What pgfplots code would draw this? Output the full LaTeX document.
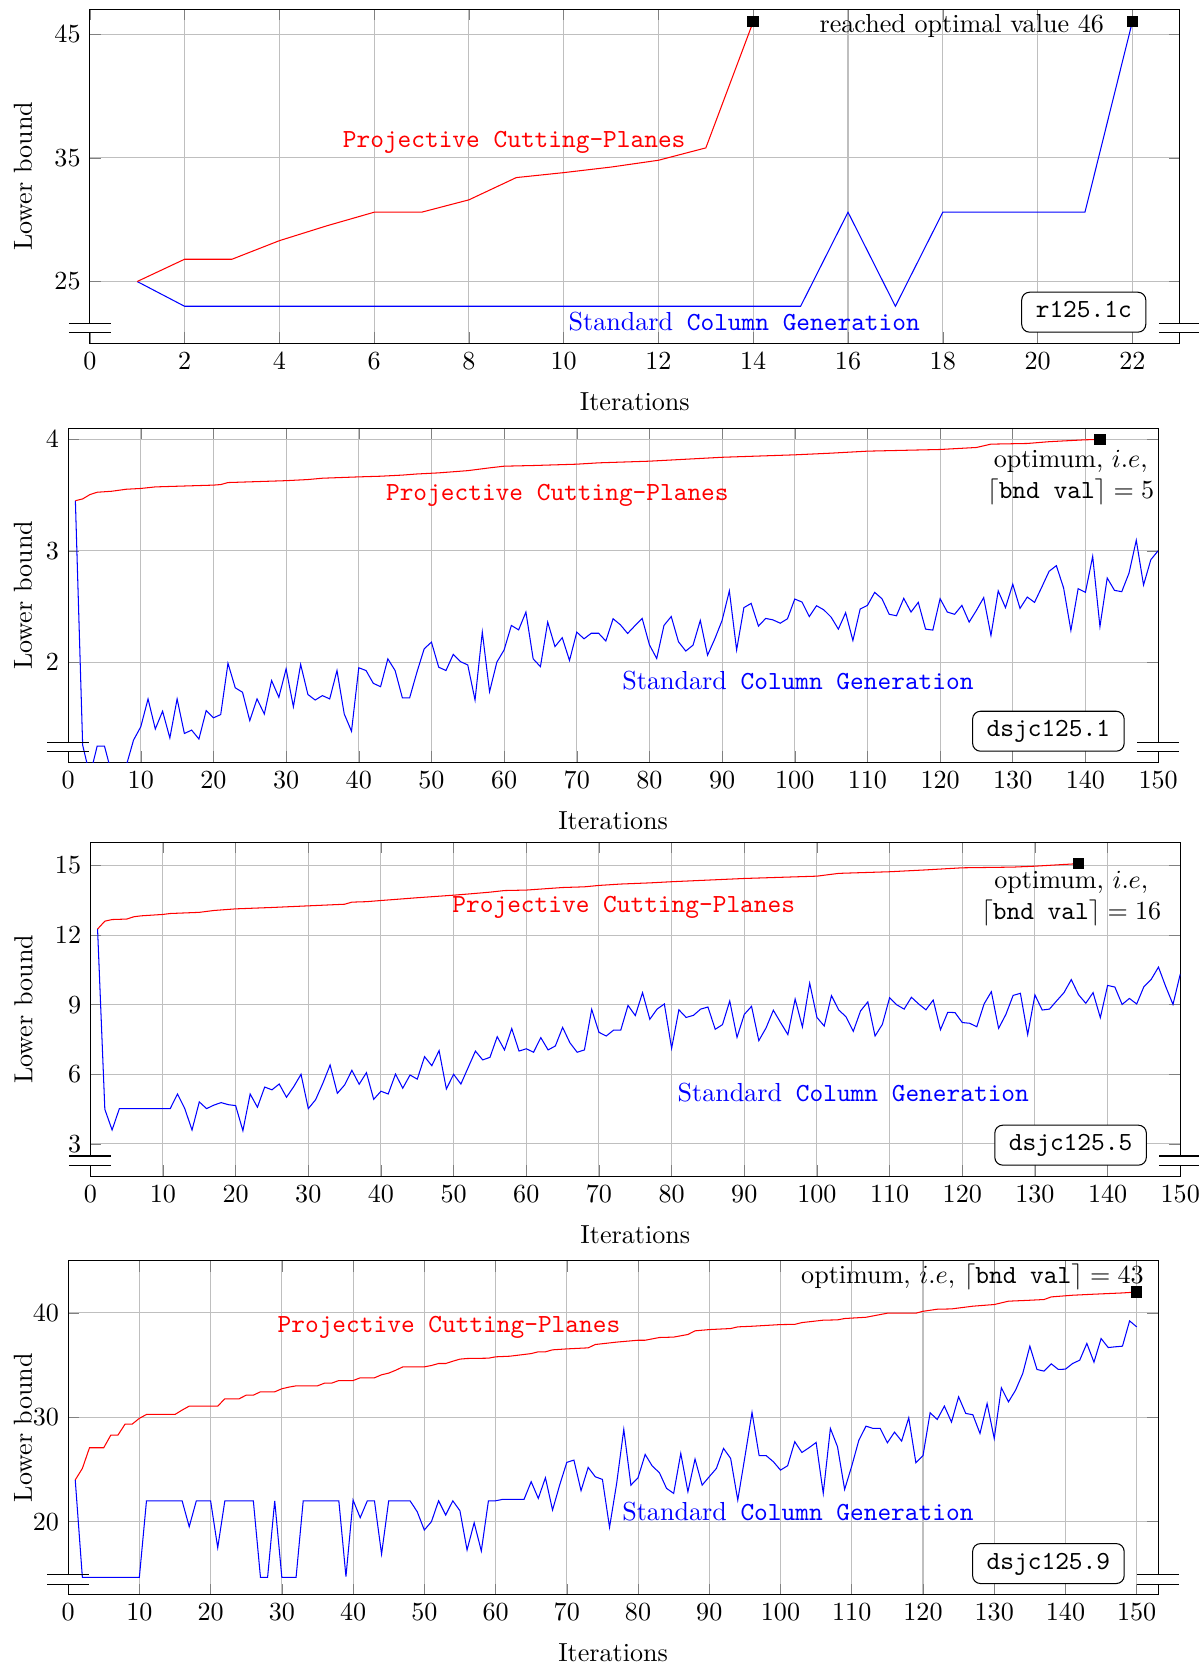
\documentclass[border=0pt]{standalone}
\usepackage{pgfplots}
\pgfplotsset{compat=1.18}
\begin{document}
\begin{tikzpicture}
\useasboundingbox (0,0) rectangle (459pt,-638.3pt);
\pgfplotsset{
 panel/.style={scale only axis, width=417.6pt, height=128pt, anchor=north west,
   grid=major, clip mode=individual, xlabel={Iterations}, ylabel={Lower bound},
   xlabel style={yshift=-2pt},
   xmin=0, xtick={0,10,...,150}},
}
\tikzset{lbl/.style={font=\ttfamily}}
%%%%%%%%%%%%%%%% panel 1
\begin{axis}[panel, name=p1, at={(34.4pt,-3.56pt)}, xmax=23, ymin=20, ymax=47,
  xtick={0,2,...,22}, ytick={25,35,45},
  ylabel style={at={(axis description cs:-0.0613,0.5)}, anchor=center}]
\addplot[blue] coordinates {(1,25) (2,23) (3,23) (4,23) (5,23) (6,23) (7,23) (8,23) (9,23) (10,23) (11,23) (12,23) (13,23) (14,23) (15,23) (16,30.6) (17,23) (18,30.6) (19,30.6) (20,30.6) (21,30.6) (22,46)};
\addplot[red] coordinates {(1,25) (2,26.8) (3,26.8) (4,28.3) (5,29.5) (6,30.6) (7,30.6) (8,31.6) (9,33.4) (10,33.8) (11,34.25) (12,34.8) (13,35.8) (14,46)};
\addplot[only marks, mark=square*, mark size=2pt, black] coordinates {(14,46) (22,46)};
\node[red, lbl] at (axis cs:8.955,36.25) {Projective Cutting-Planes};
\node[blue] at (axis cs:13.81,21.8) {Standard\texttt{ Column Generation}};
\node at (axis cs:18.4,45.69) {reached optimal value 46};
\end{axis}
%%%%%%%%%%%%%%%% panel 2
\begin{axis}[panel, name=p2, at={(26.1pt,-164.1pt)}, xmax=150, ymin=1.1, ymax=4.1,
  ytick={2,3,4},
  ylabel style={at={(axis description cs:-0.0414,0.5)}, anchor=center}]
\addplot[blue] coordinates {(1,3.45) (2,1.256) (3,0.98) (4,1.247) (5,1.247) (6,1.0) (7,1.0) (8,1.07) (9,1.30) (10,1.42) (11,1.67) (12,1.40) (13,1.56) (14,1.32) (15,1.67) (16,1.36) (17,1.39) (18,1.31) (19,1.565) (20,1.50) (21,1.53) (22,1.99) (23,1.77) (24,1.73) (25,1.475) (26,1.67) (27,1.535) (28,1.835) (29,1.685) (30,1.94) (31,1.60) (32,1.98) (33,1.71) (34,1.66) (35,1.70) (36,1.67) (37,1.925) (38,1.535) (39,1.38) (40,1.95) (41,1.925) (42,1.81) (43,1.78) (44,2.03) (45,1.925) (46,1.68) (47,1.68) (48,1.91) (49,2.12) (50,2.18) (51,1.955) (52,1.925) (53,2.07) (54,2.005) (55,1.975) (56,1.66) (57,2.27) (58,1.735) (59,2.0) (60,2.11) (61,2.33) (62,2.29) (63,2.45) (64,2.03) (65,1.96) (66,2.36) (67,2.14) (68,2.22) (69,2.015) (70,2.27) (71,2.21) (72,2.26) (73,2.26) (74,2.19) (75,2.39) (76,2.336) (77,2.258) (78,2.327) (79,2.393) (80,2.156) (81,2.033) (82,2.33) (83,2.41) (84,2.183) (85,2.10) (86,2.153) (87,2.375) (88,2.063) (89,2.21) (90,2.375) (91,2.64) (92,2.11) (93,2.49) (94,2.528) (95,2.324) (96,2.393) (97,2.38) (98,2.35) (99,2.39) (100,2.567) (101,2.54) (102,2.41) (103,2.507) (104,2.47) (105,2.405) (106,2.297) (107,2.444) (108,2.195) (109,2.477) (110,2.51) (111,2.627) (112,2.57) (113,2.43) (114,2.417) (115,2.573) (116,2.45) (117,2.537) (118,2.297) (119,2.288) (120,2.57) (121,2.45) (122,2.43) (123,2.51) (124,2.36) (125,2.465) (126,2.58) (127,2.24) (128,2.64) (129,2.49) (130,2.70) (131,2.483) (132,2.585) (133,2.537) (134,2.675) (135,2.816) (136,2.867) (137,2.666) (138,2.285) (139,2.66) (140,2.627) (141,2.95) (142,2.32) (143,2.756) (144,2.645) (145,2.633) (146,2.80) (147,3.095) (148,2.693) (149,2.92) (150,3.0)};
\addplot[red] coordinates {(1,3.45) (2,3.466) (3,3.505) (4,3.526) (6,3.535) (8,3.553) (10,3.56) (12,3.574) (20,3.59) (21,3.595) (22,3.613) (30,3.63) (33,3.64) (35,3.652) (40,3.664) (43,3.67) (46,3.68) (48,3.69) (51,3.70) (55,3.72) (58,3.745) (60,3.76) (64,3.766) (70,3.778) (73,3.79) (80,3.805) (90,3.84) (100,3.862) (105,3.877) (110,3.895) (120,3.91) (125,3.928) (127,3.958) (132,3.964) (135,3.98) (140,3.997) (142,4.0)};
\addplot[only marks, mark=square*, mark size=2pt, black] coordinates {(142,4.0)};
\node[red, lbl] at (axis cs:67.33,3.498) {Projective Cutting-Planes};
\node[blue] at (axis cs:100.44,1.837) {Standard\texttt{ Column Generation}};
\node[align=center] at (axis cs:137.97,3.66) {optimum, $i.e$,\\ $\lceil\texttt{bnd val}\rceil=5$};
\end{axis}
%%%%%%%%%%%%%%%% panel 3
\begin{axis}[panel, name=p3, at={(34.6pt,-322.7pt)}, xmax=150, ymin=1.6, ymax=16,
  ytick={3,6,9,12,15},
  ylabel style={at={(axis description cs:-0.0613,0.5)}, anchor=center}]
\addplot[blue] coordinates {(1,12.26) (2,4.49) (3,3.6) (4,4.52) (5,4.52) (6,4.52) (7,4.52) (8,4.52) (9,4.52) (10,4.52) (11,4.52) (12,5.15) (13,4.52) (14,3.6) (15,4.81) (16,4.52) (17,4.67) (18,4.78) (19,4.69) (20,4.65) (21,3.57) (22,5.15) (23,4.58) (24,5.45) (25,5.33) (26,5.58) (27,5.01) (28,5.47) (29,6.0) (30,4.52) (31,4.9) (32,5.61) (33,6.4) (34,5.18) (35,5.54) (36,6.17) (37,5.57) (38,6.07) (39,4.92) (40,5.27) (41,5.15) (42,6.01) (43,5.4) (44,5.97) (45,5.79) (46,6.76) (47,6.37) (48,7.02) (49,5.37) (50,6.0) (51,5.58) (52,6.29) (53,7.0) (54,6.62) (55,6.73) (56,7.62) (57,7.05) (58,7.97) (59,7.0) (60,7.1) (61,6.95) (62,7.58) (63,7.05) (64,7.22) (65,8.02) (66,7.36) (67,6.95) (68,7.05) (69,8.8) (70,7.81) (71,7.65) (72,7.9) (73,7.9) (74,8.97) (75,8.53) (76,9.52) (77,8.37) (78,8.81) (79,9.03) (80,7.12) (81,8.78) (82,8.45) (83,8.54) (84,8.81) (85,8.9) (86,7.94) (87,8.14) (88,9.16) (89,7.59) (90,8.58) (91,8.93) (92,7.45) (93,8.0) (94,8.76) (95,8.23) (96,7.71) (97,9.24) (98,8.04) (99,9.93) (100,8.45) (101,8.08) (102,9.39) (103,8.77) (104,8.48) (105,7.85) (106,8.73) (107,9.12) (108,7.65) (109,8.15) (110,9.3) (111,8.99) (112,8.81) (113,9.32) (114,9.03) (115,8.78) (116,9.2) (117,7.92) (118,8.67) (119,8.66) (120,8.23) (121,8.2) (122,8.05) (123,9.03) (124,9.56) (125,7.98) (126,8.58) (127,9.4) (128,9.49) (129,7.71) (130,9.42) (131,8.77) (132,8.81) (133,9.17) (134,9.52) (135,10.08) (136,9.43) (137,9.06) (138,9.52) (139,8.44) (140,9.83) (141,9.76) (142,9.01) (143,9.27) (144,9.03) (145,9.78) (146,10.09) (147,10.62) (148,9.78) (149,9.01) (150,10.32)};
\addplot[red] coordinates {(1,12.26) (2,12.6) (3,12.67) (5,12.69) (6,12.79) (7,12.83) (10,12.89) (11,12.93) (15,12.98) (17,13.06) (20,13.13) (25,13.19) (30,13.26) (35,13.33) (36,13.42) (38,13.44) (40,13.49) (45,13.61) (50,13.72) (52,13.77) (55,13.85) (57,13.92) (60,13.94) (65,14.05) (68,14.08) (70,14.14) (73,14.2) (77,14.25) (80,14.3) (90,14.44) (100,14.54) (103,14.66) (110,14.73) (115,14.81) (120,14.9) (127,14.93) (130,14.97) (136,15.08)};
\addplot[only marks, mark=square*, mark size=2pt, black] coordinates {(136,15.08)};
\node[red, lbl] at (axis cs:73.41,13.18) {Projective Cutting-Planes};
\node[blue] at (axis cs:105.0,5.196) {Standard\texttt{ Column Generation}};
\node[align=center] at (axis cs:135,13.58) {optimum, $i.e$,\\ $\lceil\texttt{bnd val}\rceil=16$};
\end{axis}
%%%%%%%%%%%%%%%% panel 4
\begin{axis}[panel, name=p4, at={(26.1pt,-483.0pt)}, xmax=153, ymin=13, ymax=45,
  ytick={20,30,40},
  ylabel style={at={(axis description cs:-0.0414,0.5)}, anchor=center}]
\addplot[blue] coordinates {(1,24) (2,14.67) (3,14.67) (4,14.67) (5,14.67) (6,14.67) (7,14.67) (8,14.67) (9,14.67) (10,14.67) (11,22) (12,22) (13,22) (14,22) (15,22) (16,22) (17,19.52) (18,22) (19,22) (20,22) (21,17.51) (22,22) (23,22) (24,22) (25,22) (26,22) (27,14.67) (28,14.67) (29,22) (30,14.67) (31,14.67) (32,14.67) (33,22) (34,22) (35,22) (36,22) (37,22) (38,22) (39,14.74) (40,22.07) (41,20.38) (42,22) (43,22) (44,16.9) (45,22) (46,22) (47,22) (48,22) (49,20.96) (50,19.2) (51,20.0) (52,22) (53,20.64) (54,22) (55,21.05) (56,17.29) (57,19.9) (58,17.19) (59,22) (60,22) (61,22.14) (62,22.14) (63,22.14) (64,22.14) (65,23.83) (66,22.23) (67,24.21) (68,21.12) (69,23.51) (70,25.68) (71,25.9) (72,22.97) (73,25.2) (74,24.3) (75,24.05) (76,19.46) (77,23.67) (78,28.84) (79,23.5) (80,24.21) (81,26.44) (82,25.33) (83,24.69) (84,23.19) (85,22.71) (86,26.54) (87,22.87) (88,26.0) (89,23.5) (90,24.31) (91,25.1) (92,27.02) (93,26.06) (94,22.07) (95,26.2) (96,30.46) (97,26.32) (98,26.32) (99,25.74) (100,24.94) (101,25.36) (102,27.66) (103,26.63) (104,27.08) (105,27.59) (106,22.71) (107,28.93) (108,27.18) (109,23.09) (110,25.33) (111,27.81) (112,29.15) (113,28.93) (114,28.93) (115,27.56) (116,28.58) (117,27.72) (118,29.95) (119,25.65) (120,26.32) (121,30.43) (122,29.79) (123,31.07) (124,29.54) (125,31.96) (126,30.37) (127,30.24) (128,28.45) (129,31.32) (130,27.97) (131,32.82) (132,31.48) (133,32.6) (134,34.19) (135,36.81) (136,34.58) (137,34.42) (138,35.12) (139,34.58) (140,34.61) (141,35.15) (142,35.47) (143,37.07) (144,35.28) (145,37.54) (146,36.68) (147,36.75) (148,36.81) (149,39.23) (150,38.66)};
\addplot[red] coordinates {(1,24.0) (2,25.1) (3,27.08) (5,27.08) (6,28.3) (7,28.3) (8,29.35) (9,29.35) (10,29.9) (11,30.27) (15,30.27) (16,30.69) (17,31.07) (21,31.07) (22,31.77) (24,31.77) (25,32.12) (26,32.12) (27,32.44) (29,32.44) (30,32.73) (31,32.89) (32,33.01) (35,33.01) (36,33.27) (37,33.27) (38,33.52) (40,33.52) (41,33.78) (43,33.78) (44,34.07) (45,34.23) (46,34.51) (47,34.83) (50,34.83) (51,34.96) (52,35.15) (53,35.15) (54,35.37) (55,35.57) (56,35.63) (59,35.66) (60,35.79) (62,35.85) (65,36.1) (66,36.27) (67,36.27) (68,36.46) (70,36.55) (73,36.65) (74,36.97) (77,37.2) (80,37.38) (81,37.38) (83,37.64) (85,37.68) (87,37.93) (88,38.28) (90,38.4) (93,38.5) (94,38.66) (96,38.72) (100,38.88) (102,38.9) (103,39.07) (106,39.3) (108,39.33) (109,39.46) (112,39.58) (114,39.84) (115,39.97) (119,39.97) (120,40.15) (122,40.35) (124,40.38) (127,40.64) (130,40.8) (132,41.12) (135,41.21) (137,41.28) (138,41.53) (141,41.69) (144,41.79) (148,41.91) (150,42.0)};
\addplot[only marks, mark=square*, mark size=2pt, black] coordinates {(150,42.0)};
\node[red, lbl] at (axis cs:53.46,38.58) {Projective Cutting-Planes};
\node[blue] at (axis cs:102.44,20.97) {Standard\texttt{ Column Generation}};
\node at (axis cs:126.95,43.4) {optimum, $i.e$, $\lceil\texttt{bnd val}\rceil=43$};
\end{axis}
%%%%%%%%%%%%%%%% instance boxes and axis breaks
\tikzset{inst/.style={draw, rounded corners=3pt, font=\ttfamily, anchor=south east,
  inner xsep=5.4pt, inner ysep=3.5pt, text height=6.3pt, text depth=2pt, fill=white}}
\node[inst] at ([xshift=-12.8pt,yshift=4.1pt]p1.south east) {r125.1c};
\node[inst] at ([xshift=-12.8pt,yshift=4.1pt]p2.south east) {dsjc125.1};
\node[inst] at ([xshift=-12.8pt,yshift=4.1pt]p3.south east) {dsjc125.5};
\node[inst] at ([xshift=-12.8pt,yshift=4.1pt]p4.south east) {dsjc125.9};
\foreach \a in {p1,p2,p3,p4}{
  \foreach \c in {south west,south east}{
    \fill[white] ([xshift=-1pt,yshift=4pt]\a.\c) rectangle ([xshift=1pt,yshift=7.8pt]\a.\c);
    \draw ([xshift=-8pt,yshift=4pt]\a.\c) -- ++(16pt,0);
    \draw ([xshift=-8pt,yshift=7.8pt]\a.\c) -- ++(16pt,0);
  }
}
\end{tikzpicture}
\end{document}
